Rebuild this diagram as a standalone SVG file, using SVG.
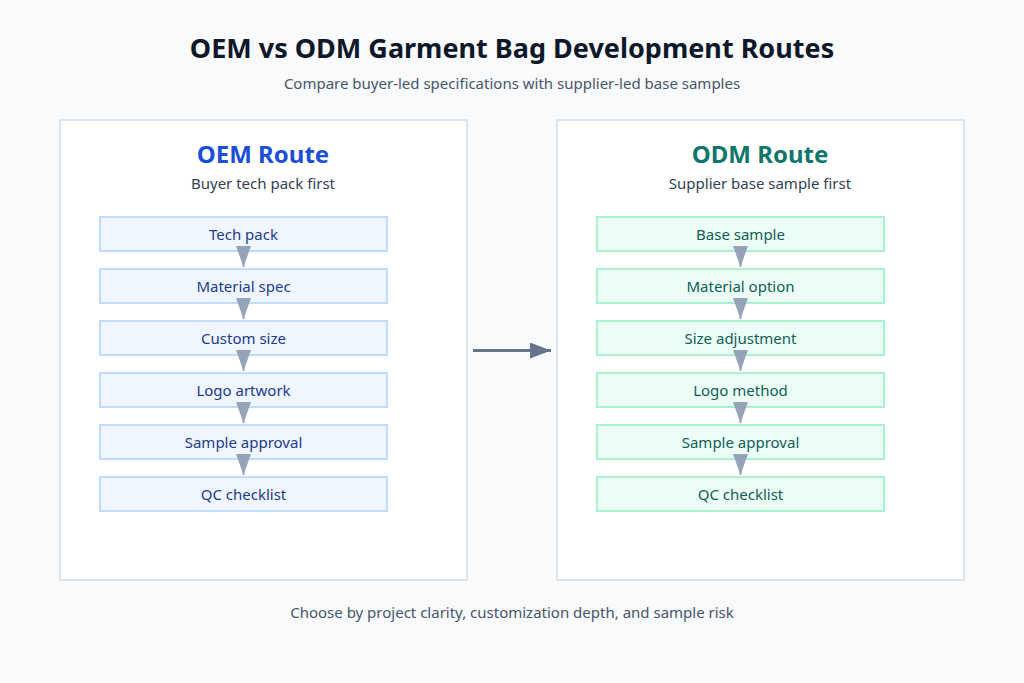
<svg xmlns="http://www.w3.org/2000/svg" width="1024" height="683" viewBox="0 0 1024 683">
<style>
text{font-family:"Noto Sans","Open Sans","DejaVu Sans",sans-serif;text-anchor:middle}
.title{font-size:27px;font-weight:700;fill:#0f172a}
.sub{font-size:15px;fill:#475569}
.panel{fill:#ffffff;stroke:#dbe3ee;stroke-width:2}
.ptitle{font-size:24px;font-weight:700}
.psub{font-size:15px;fill:#334155}
.oem rect{fill:#eff6ff;stroke:#bfdbfe;stroke-width:2}
.oem text{font-size:15px;fill:#1e3a8a}
.odm rect{fill:#ecfdf5;stroke:#a7f3d0;stroke-width:2}
.odm text{font-size:15px;fill:#115e59}
.step{stroke:#94a3b8;stroke-width:2}
</style>
<defs>
<marker id="tri" viewBox="0 0 21 15" refX="21" refY="7.5" markerUnits="userSpaceOnUse" markerWidth="21" markerHeight="15" orient="auto">
<path d="M0,0 L21,7.5 L0,15 z" fill="#94a3b8"/>
</marker>
<marker id="big" viewBox="0 0 21 16" refX="21" refY="8" markerUnits="userSpaceOnUse" markerWidth="21" markerHeight="16" orient="auto">
<path d="M0,0 L21,8 L0,16 z" fill="#64748b"/>
</marker>
</defs>
<rect width="1024" height="683" fill="#f8fafc"/>
<text class="title" x="512" y="58">OEM vs ODM Garment Bag Development Routes</text>
<text class="sub" x="512" y="89">Compare buyer-led specifications with supplier-led base samples</text>

<g id="panel-oem">
<rect class="panel" x="60" y="120" width="407" height="460"/>
<text class="ptitle" x="263" y="163" fill="#1d4ed8">OEM Route</text>
<text class="psub" x="263" y="189">Buyer tech pack first</text>
</g>
<g id="panel-odm">
<rect class="panel" x="557" y="120" width="407" height="460"/>
<text class="ptitle" x="760" y="163" fill="#0f766e">ODM Route</text>
<text class="psub" x="760" y="189">Supplier base sample first</text>
</g>

<g class="oem">
<g id="oem-1"><rect x="100" y="217" width="287" height="34"/><text x="243.5" y="240">Tech pack</text></g>
<g id="oem-2"><rect x="100" y="269" width="287" height="34"/><text x="243.5" y="292">Material spec</text></g>
<g id="oem-3"><rect x="100" y="321" width="287" height="34"/><text x="243.5" y="344">Custom size</text></g>
<g id="oem-4"><rect x="100" y="373" width="287" height="34"/><text x="243.5" y="396">Logo artwork</text></g>
<g id="oem-5"><rect x="100" y="425" width="287" height="34"/><text x="243.5" y="448">Sample approval</text></g>
<g id="oem-6"><rect x="100" y="477" width="287" height="34"/><text x="243.5" y="500">QC checklist</text></g>
</g>
<g class="odm">
<g id="odm-1"><rect x="597" y="217" width="287" height="34"/><text x="740.5" y="240">Base sample</text></g>
<g id="odm-2"><rect x="597" y="269" width="287" height="34"/><text x="740.5" y="292">Material option</text></g>
<g id="odm-3"><rect x="597" y="321" width="287" height="34"/><text x="740.5" y="344">Size adjustment</text></g>
<g id="odm-4"><rect x="597" y="373" width="287" height="34"/><text x="740.5" y="396">Logo method</text></g>
<g id="odm-5"><rect x="597" y="425" width="287" height="34"/><text x="740.5" y="448">Sample approval</text></g>
<g id="odm-6"><rect x="597" y="477" width="287" height="34"/><text x="740.5" y="500">QC checklist</text></g>
</g>

<g id="connectors">
<line class="step" x1="243.5" y1="252" x2="243.5" y2="267" marker-end="url(#tri)"/>
<line class="step" x1="243.5" y1="304" x2="243.5" y2="319" marker-end="url(#tri)"/>
<line class="step" x1="243.5" y1="356" x2="243.5" y2="371" marker-end="url(#tri)"/>
<line class="step" x1="243.5" y1="408" x2="243.5" y2="423" marker-end="url(#tri)"/>
<line class="step" x1="243.5" y1="460" x2="243.5" y2="475" marker-end="url(#tri)"/>
<line class="step" x1="740.5" y1="252" x2="740.5" y2="267" marker-end="url(#tri)"/>
<line class="step" x1="740.5" y1="304" x2="740.5" y2="319" marker-end="url(#tri)"/>
<line class="step" x1="740.5" y1="356" x2="740.5" y2="371" marker-end="url(#tri)"/>
<line class="step" x1="740.5" y1="408" x2="740.5" y2="423" marker-end="url(#tri)"/>
<line class="step" x1="740.5" y1="460" x2="740.5" y2="475" marker-end="url(#tri)"/>
<line x1="473" y1="350.5" x2="551" y2="350.5" stroke="#64748b" stroke-width="3" marker-end="url(#big)"/>
</g>

<text class="sub" x="512" y="618">Choose by project clarity, customization depth, and sample risk</text>
</svg>
